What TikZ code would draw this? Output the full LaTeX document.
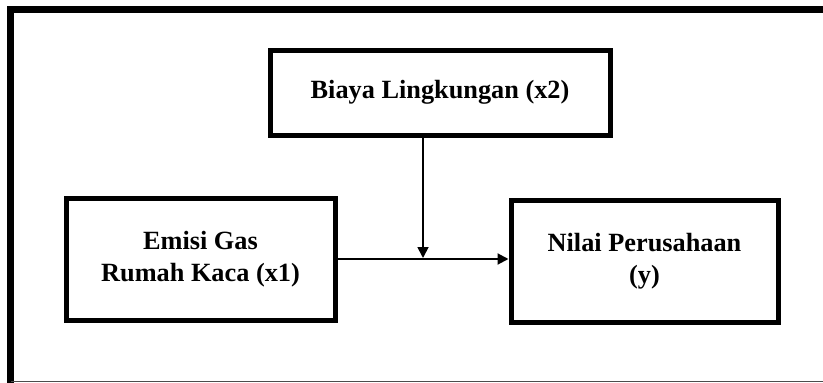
\documentclass[tikz,border=0pt]{standalone}
\usepackage{xcolor}
\usepackage{amsmath, amssymb}
\usepackage{fontspec}
\setmainfont{Liberation Serif}
\usepackage{tikz}
\usetikzlibrary{arrows.meta, calc}

\begin{document}
\begin{tikzpicture}[x=1pt, y=-1pt,
  kotak/.style={draw, line width=5pt, align=center, inner sep=0pt,
    font=\fontsize{26.3}{32}\selectfont\bfseries},
  panah/.style={-{Triangle[length=11pt, width=11pt]}}]
\useasboundingbox (0,0) rectangle (823,383);
\draw[line width=6.5pt] (823,9.7) -- (10.5,9.7) -- (10.5,383);
\draw[line width=1pt, black!70] (10.5,381) -- (823,381);
\node[kotak, minimum width=340pt, minimum height=85pt] (biaya) at (440,92.5) {Biaya Lingkungan (x2)};
\node[kotak, minimum width=269pt, minimum height=122pt] (emisi) at (200.5,259) {Emisi Gas\\Rumah Kaca (x1)};
\node[kotak, minimum width=267pt, minimum height=122pt] (nilai) at (644.5,261) {Nilai Perusahaan\\(y)};
\coordinate (temu) at ($(emisi.east)!0.5!(emisi.east -| nilai.west)$);
\draw[panah, line width=2pt] (emisi.east) -- (emisi.east -| nilai.west);
\draw[panah, line width=1.8pt, shorten >=1pt] (biaya.south -| temu) -- (temu);
\end{tikzpicture}
\end{document}
